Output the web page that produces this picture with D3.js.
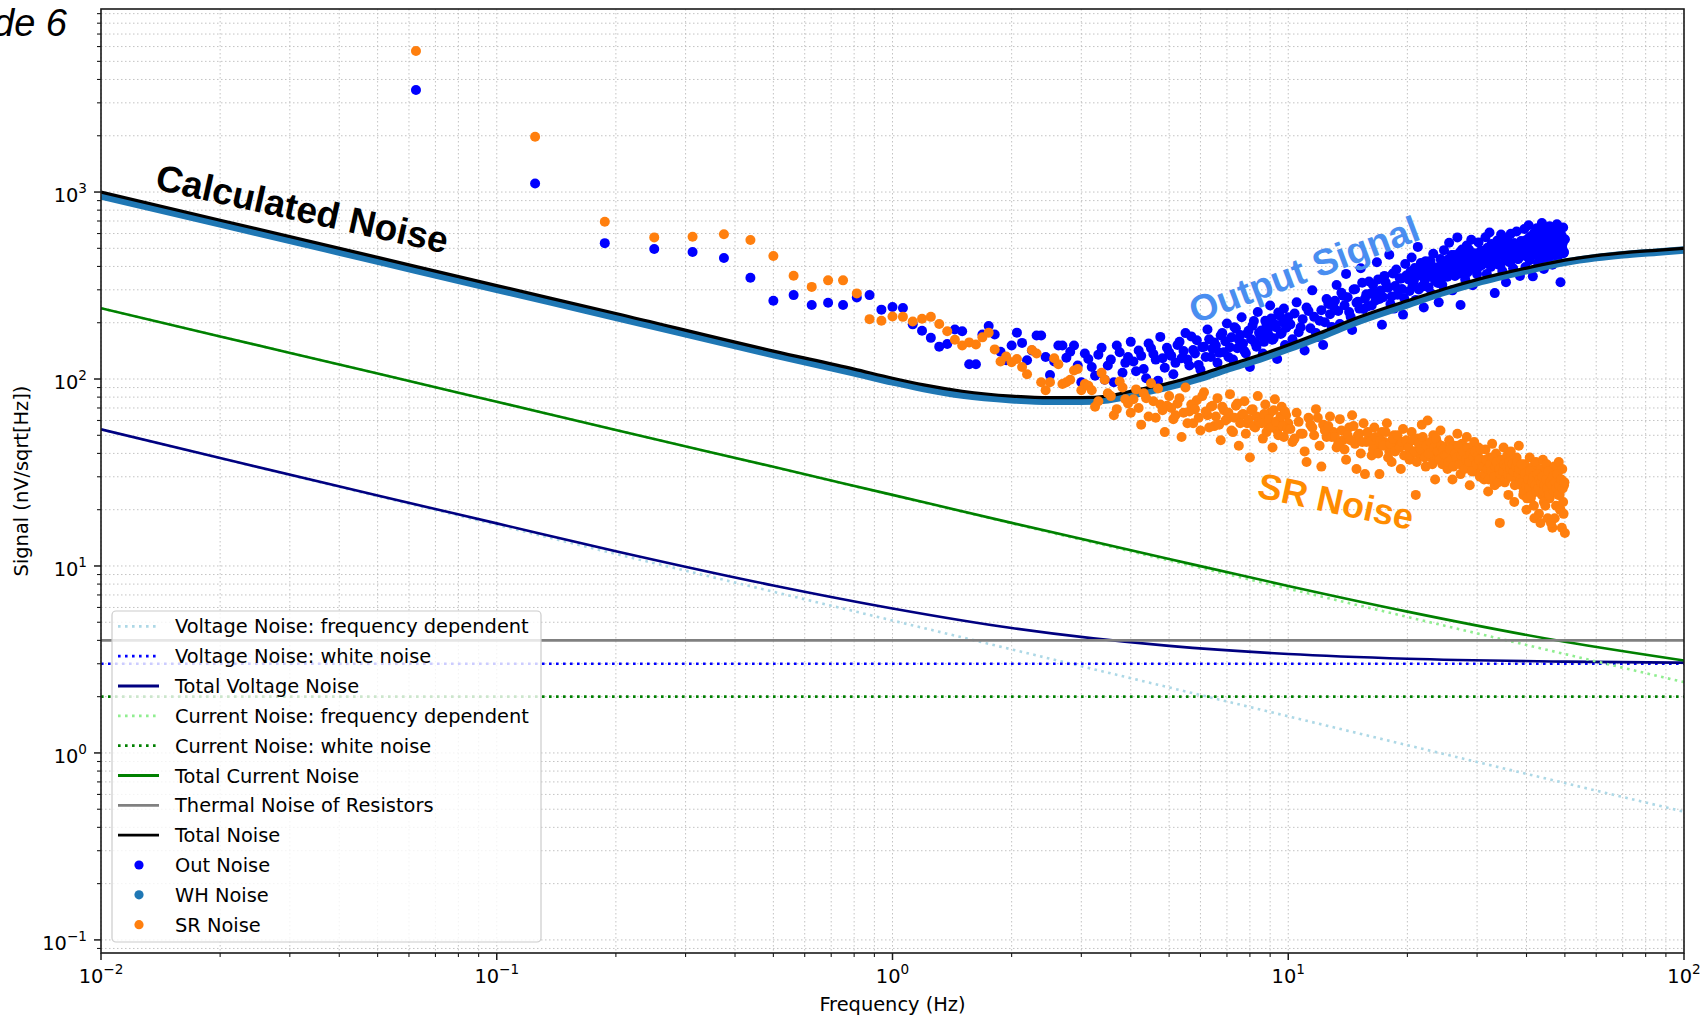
<!DOCTYPE html>
<html>

<head>
  <meta charset="utf-8" />
  <script src="https://cdn.jsdelivr.net/npm/d3@7"></script>
  <style>
    body {
      margin: 0;
      background: #fff;
    }

    svg {
      display: block;
    }

    text {
      font-family: "DejaVu Sans", sans-serif;
      fill: #000;
    }

    .grid line {
      stroke: #b4b4b4;
      stroke-width: 0.8px;
      stroke-dasharray: 1.5, 2.5;
    }

    .curve {
      fill: none;
    }

    .note {
      font-family: "Liberation Sans", Arial, sans-serif;
      font-weight: bold;
      font-size: 36px;
    }

    .mode {
      font-family: "Liberation Sans", Arial, sans-serif;
      font-style: italic;
      font-size: 38px;
    }
  </style>
</head>

<body>
</body>
<script>
  "use strict";

  // Model curves (Hz, nV/sqrt(Hz))
  var modelFreq = [0.01, 0.02, 0.05, 0.1, 0.2, 0.5, 1, 2, 5, 10, 20, 50, 100];
  var voltFreqDep = [53.7, 37.7, 23.6, 16.6, 11.6, 7.28, 5.11, 3.58, 2.24, 1.57, 1.10, 0.69, 0.485];
  var voltTotal = [53.8, 37.8, 23.8, 16.9, 12.0, 7.87, 5.93, 4.66, 3.74, 3.38, 3.19, 3.08, 3.04];
  var currFreqDep = [239, 169, 107, 75.6, 53.4, 33.8, 23.9, 16.9, 10.7, 7.56, 5.34, 3.38, 2.39];
  var currTotal = [239, 169, 107, 75.6, 53.4, 33.9, 24.0, 17.0, 10.9, 7.82, 5.70, 3.93, 3.12];

  var flatFreq = [0.01, 100];
  var voltWhite = [3, 3];
  var currWhite = [2, 2];
  var thermal = [4, 4];

  var totalFreq = [0.01, 0.02, 0.05, 0.1, 0.2, 0.5, 0.8, 1, 1.2, 1.5, 2, 2.5, 3, 3.5, 4, 5, 6, 7, 8, 10, 12, 15, 20, 25, 30, 40, 50, 60, 70, 85, 100];
  var totalNoise = [1000, 707, 447, 316, 224, 141, 113, 101, 93, 86, 81, 79.5, 79.5, 81, 86, 95, 106, 118, 129, 152, 176, 213, 262, 305, 340, 392, 432, 457, 473, 488, 500];
  var whNoise = [955, 675, 427, 302, 214, 135, 108, 96.5, 89, 82, 77.5, 76, 76, 77.5, 82, 91, 101, 113, 123, 145, 168, 203, 250, 293, 328, 380, 421, 446, 462, 477, 490];

  // Measured spectra, even FFT bins
  var specFreq = [
    0.0625, 0.125, 0.1875, 0.25, 0.3125, 0.375, 0.4375, 0.5, 0.5625, 0.625, 0.6875, 0.75, 0.8125, 0.875, 0.9375, 1,
    1.0625, 1.125, 1.1875, 1.25, 1.3125, 1.375, 1.4375, 1.5, 1.5625, 1.625, 1.6875, 1.75, 1.8125, 1.875, 1.9375, 2,
    2.0625, 2.125, 2.1875, 2.25, 2.3125, 2.375, 2.4375, 2.5, 2.5625, 2.625, 2.6875, 2.75, 2.8125, 2.875, 2.9375, 3, 3.0625,
    3.125, 3.25, 3.375, 3.5, 3.625, 3.75, 3.875, 4, 4.125, 4.25, 4.375, 4.5, 4.625, 4.75, 4.875,
    5, 5.125, 5.25, 5.375, 5.5, 5.625, 5.75, 5.875, 6, 6.125, 6.25, 6.375,
    6.5, 6.625, 6.75, 6.875, 7, 7.125, 7.25, 7.375, 7.5, 7.625, 7.75, 7.875, 8, 8.125, 8.25, 8.375,
    8.5, 8.625, 8.75, 8.875, 9, 9.125, 9.25, 9.375, 9.5, 9.625, 9.75, 9.875,
    10, 10.25, 10.5, 10.75, 11, 11.25, 11.5, 11.75, 12, 12.25, 12.5, 12.75,
    13, 13.25, 13.5, 13.75, 14, 14.25, 14.5, 14.75, 15, 15.25, 15.5, 15.75,
    16, 16.25, 16.5, 16.75, 17, 17.25, 17.5, 17.75, 18, 18.25, 18.5, 18.75, 19, 19.25, 19.5, 19.75,
    20, 20.25, 20.5, 20.75, 21, 21.25, 21.5, 21.75, 22, 22.25, 22.5, 22.75, 23, 23.25, 23.5, 23.75, 24, 24.25, 24.5, 24.75,
    25, 25.25, 25.5, 25.75, 26, 26.25, 26.5, 26.75, 27, 27.25, 27.5, 27.75, 28, 28.25, 28.5, 28.75, 29, 29.25, 29.5, 29.75, 30, 30.25, 30.5, 30.75,
    31, 31.25, 31.5, 31.75, 32, 32.25, 32.5, 32.75, 33, 33.25, 33.5, 33.75, 34, 34.25, 34.5, 34.75,
    35, 35.25, 35.5, 35.75, 36, 36.25, 36.5, 36.75, 37, 37.25, 37.5, 37.75, 38, 38.25, 38.5, 38.75,
    39, 39.25, 39.5, 39.75, 40, 40.25, 40.5, 40.75, 41, 41.25, 41.5, 41.75, 42, 42.25, 42.5, 42.75, 43, 43.25, 43.5, 43.75,
    44, 44.25, 44.5, 44.75, 45, 45.25, 45.5, 45.75, 46, 46.25, 46.5, 46.75, 47, 47.25, 47.5, 47.75, 48, 48.25, 48.5, 48.75,
    49, 49.25, 49.5, 49.75, 50
  ];

  var outNoise = [
    3510, 1110, 533, 496, 478, 444, 348, 262, 281, 249, 256, 249, 273, 281, 235, 243,
    240, 196, 181, 166, 149, 154, 184, 180, 120, 120, 173, 192, 173, 140, 126, 151,
    177, 156, 126, 142, 171, 171, 131, 105, 124, 151, 151, 130, 140, 151, 118, 96, 137,
    128, 104, 147, 118, 96, 139, 122, 158, 110, 133, 101, 146, 127, 168, 115,
    139, 106, 152, 129, 176, 118, 143, 161, 112, 149, 184, 131,
    157, 122, 171, 139, 198, 148, 127, 186, 162, 214, 141, 175, 116, 193, 156, 228,
    170, 137, 205, 183, 247, 162, 196, 128, 219, 176, 238, 188,
    214, 163, 257, 189, 142, 231, 298, 176, 205, 152, 268, 222,
    246, 318, 197, 279, 365, 228, 183, 302, 259, 391, 237, 284,
    332, 247, 289, 421, 268, 195, 356, 311, 462, 276, 238, 385, 299, 344, 221, 412,
    358, 296, 447, 332, 265, 509, 378, 312, 241, 427, 351, 398, 286, 468, 334, 373, 257, 438, 319, 489,
    412, 352, 536, 387, 298, 461, 428, 572, 366, 249, 493, 405, 341, 517, 443, 389, 556, 317, 471, 422, 364, 538, 401, 452,
    486, 419, 573, 365, 452, 607, 398, 521, 436, 288, 498, 551, 409, 467, 592, 378,
    514, 443, 329, 566, 482, 421, 598, 457, 391, 532, 474, 615, 438, 503, 356, 547,
    512, 458, 634, 397, 541, 487, 665, 432, 578, 506, 354, 602, 468, 549, 641, 419, 523, 587, 461, 682,
    497, 388, 618, 542, 473, 596, 445, 657, 518, 562, 409, 631, 489, 574, 527, 672, 451, 603, 536, 329,
    588, 502, 646, 478, 559
  ];

  var srNoise = [
    5680, 1975, 694, 572, 577, 594, 554, 455, 357, 311, 337, 337, 287, 209, 205, 216,
    215, 203, 210, 215, 197, 180, 162, 151, 157, 153, 167, 177, 144, 124, 132, 123,
    128, 116, 106, 143, 137, 96, 87, 96, 129, 120, 94, 96, 99, 111, 113, 87, 94,
    92, 71, 108, 84, 64, 97, 78, 66, 88, 57, 79, 95, 62, 73, 52,
    81, 61, 74, 49, 90, 67, 58, 77, 53, 85, 64, 71,
    56, 79, 47, 68, 61, 83, 52, 72, 44, 64, 76, 58, 38, 69, 55, 81,
    62, 48, 73, 57, 66, 43, 78, 53, 60, 71, 49, 64,
    58, 46, 66, 51, 41, 62, 55, 69, 44, 57, 49, 63,
    52, 43, 61, 47, 37, 55, 64, 45, 50, 40, 58, 46,
    49, 39, 55, 44, 31, 52, 46, 58, 41, 36, 50, 43, 47, 33, 54, 45,
    44, 37, 52, 41, 24, 48, 39, 57, 45, 34, 60, 42, 38, 50, 29, 46, 40, 53, 35, 43,
    41, 33, 47, 38, 29, 44, 36, 51, 39, 31, 45, 40, 34, 49, 37, 27, 42, 35, 46, 32, 39, 43, 30, 37,
    36, 29, 42, 33, 25, 38, 31, 45, 34, 27, 40, 35, 30, 17, 37, 32,
    43, 28, 35, 39, 24, 33, 41, 30, 36, 22, 34, 38, 29, 44, 32, 27,
    30, 24, 35, 27, 20, 32, 26, 38, 23, 29, 34, 21, 28, 36, 25, 31, 19, 27, 33, 24,
    37, 22, 29, 26, 35, 18, 30, 23, 32, 27, 16, 25, 34, 28, 21, 31, 26, 36, 24, 20,
    29, 33, 22, 27, 15
  ];

  // Measured spectra, the bins in between
  var specFreqB = [
    3.1875, 3.3125, 3.4375, 3.5625, 3.6875, 3.8125, 3.9375, 4.0625, 4.1875, 4.3125, 4.4375, 4.5625, 4.6875, 4.8125, 4.9375,
    5.0625, 5.1875, 5.3125, 5.4375, 5.5625, 5.6875, 5.8125, 5.9375, 6.0625, 6.1875, 6.3125, 6.4375,
    6.5625, 6.6875, 6.8125, 6.9375, 7.0625, 7.1875, 7.3125, 7.4375, 7.5625, 7.6875, 7.8125, 7.9375, 8.0625, 8.1875, 8.3125, 8.4375,
    8.5625, 8.6875, 8.8125, 8.9375, 9.0625, 9.1875, 9.3125, 9.4375, 9.5625, 9.6875, 9.8125, 9.9375,
    10.125, 10.375, 10.625, 10.875, 11.125, 11.375, 11.625, 11.875, 12.125, 12.375, 12.625, 12.875,
    13.125, 13.375, 13.625, 13.875, 14.125, 14.375, 14.625, 14.875, 15.125, 15.375, 15.625, 15.875,
    16.125, 16.375, 16.625, 16.875, 17.125, 17.375, 17.625, 17.875, 18.125, 18.375, 18.625, 18.875, 19.125, 19.375, 19.625, 19.875,
    20.125, 20.375, 20.625, 20.875, 21.125, 21.375, 21.625, 21.875, 22.125, 22.375, 22.625, 22.875, 23.125, 23.375, 23.625, 23.875,
    24.125, 24.375, 24.625, 24.875,
    25.125, 25.375, 25.625, 25.875, 26.125, 26.375, 26.625, 26.875, 27.125, 27.375, 27.625, 27.875, 28.125, 28.375, 28.625, 28.875,
    29.125, 29.375, 29.625, 29.875, 30.125, 30.375, 30.625, 30.875,
    31.125, 31.375, 31.625, 31.875, 32.125, 32.375, 32.625, 32.875, 33.125, 33.375, 33.625, 33.875, 34.125, 34.375, 34.625, 34.875,
    35.125, 35.375, 35.625, 35.875, 36.125, 36.375, 36.625, 36.875, 37.125, 37.375, 37.625, 37.875, 38.125, 38.375, 38.625, 38.875,
    39.125, 39.375, 39.625, 39.875, 40.125, 40.375, 40.625, 40.875, 41.125, 41.375, 41.625, 41.875, 42.125, 42.375, 42.625, 42.875,
    43.125, 43.375, 43.625, 43.875, 44.125, 44.375, 44.625, 44.875, 45.125, 45.375, 45.625, 45.875, 46.125, 46.375, 46.625, 46.875,
    47.125, 47.375, 47.625, 47.875, 48.125, 48.375, 48.625, 48.875, 49.125, 49.375, 49.625, 49.875
  ];

  var outNoiseB = [
    116, 135, 99, 127, 151, 108, 131, 124, 142, 113, 155, 136, 98, 129, 147,
    133, 122, 158, 141, 127, 169, 137, 119, 148, 131, 163, 145,
    151, 138, 176, 159, 131, 167, 189, 146, 172, 155, 137, 181, 163, 204, 149, 177,
    182, 158, 197, 171, 211, 165, 189, 227, 174, 201, 152, 193,
    196, 224, 178, 209, 241, 187, 215, 168, 233, 201, 252, 190,
    262, 231, 289, 248, 274, 215, 301, 256, 238, 327, 269, 244,
    286, 318, 263, 341, 297, 274, 329, 308, 252, 367, 314, 282, 346, 303, 271, 358,
    341, 376, 318, 392, 355, 301, 417, 366, 337, 384, 309, 428, 361, 347, 395, 326, 372, 411, 353, 389,
    404, 437, 382, 461, 419, 356, 448, 397, 476, 425, 388, 453, 412, 371, 492, 434, 401, 466, 418, 379, 445, 427, 483, 409,
    447, 481, 426, 503, 462, 415, 528, 471, 438, 496, 452, 517, 477, 409, 489, 463,
    541, 432, 474, 508, 455, 421, 493, 468, 532, 446, 479, 512, 439, 501, 466, 487,
    489, 527, 468, 553, 506, 447, 571, 518, 482, 544, 497, 462, 586, 523, 491, 548, 475, 562, 509, 436, 534, 498,
    579, 517, 472, 551, 488, 603, 526, 459, 541, 503, 567, 484, 529, 452, 594, 513, 476, 548, 495, 532, 471, 557
  ];

  var srNoiseB = [
    87, 76, 99, 81, 69, 90, 74, 78, 70, 84, 63, 76, 89, 68, 72,
    70, 64, 79, 66, 58, 73, 69, 62, 81, 67, 55, 72,
    63, 57, 71, 60, 66, 53, 62, 74, 58, 65, 51, 61, 68, 56, 63, 59,
    58, 65, 52, 61, 55, 68, 59, 50, 63, 56, 67, 54,
    54, 48, 59, 51, 36, 57, 50, 62, 34, 53, 56, 49,
    49, 45, 53, 42, 50, 47, 56, 33, 51, 46, 31, 52,
    46, 42, 49, 40, 47, 44, 52, 38, 45, 48, 41, 50, 43, 46, 39, 47,
    43, 39, 47, 41, 36, 45, 42, 49, 38, 44, 40, 46, 35, 43, 48, 41, 37, 44, 42, 39,
    39, 36, 42, 37, 34, 40, 38, 44, 35, 39, 41, 33, 37, 43, 36, 40, 32, 38, 41, 35, 39, 37, 42, 34,
    34, 31, 37, 33, 29, 35, 32, 38, 30, 34, 36, 28, 33, 31, 37, 32,
    35, 29, 34, 31, 36, 33, 30, 35, 32, 27, 34, 36, 31, 33, 29, 35,
    28, 25, 31, 27, 23, 29, 26, 32, 24, 28, 30, 18, 27, 25, 31, 26, 29, 17, 28, 30, 25, 27,
    21, 29, 26, 32, 24, 28, 17, 27, 30, 25, 18, 28, 26, 31, 24, 27, 20, 29, 16, 26, 19, 28
  ];

  var legendLabels = [
    "Voltage Noise: frequency dependent", "Voltage Noise: white noise", "Total Voltage Noise",
    "Current Noise: frequency dependent", "Current Noise: white noise", "Total Current Noise",
    "Thermal Noise of Resistors", "Total Noise", "Out Noise", "WH Noise", "SR Noise"
  ];

  var width = 1702,
    height = 1018;
  var plot = {
    left: 101,
    right: 1684,
    top: 9,
    bottom: 953
  };

  var svg = d3.select("body")
    .append("svg")
    .attr("width", width)
    .attr("height", height);

  var x = d3.scaleLog().domain([0.01, 100]).range([plot.left, plot.right]);
  var y = d3.scaleLog().domain([Math.pow(10, -1.07), Math.pow(10, 3.979)]).range([plot.bottom, plot.top]);

  function isDecade(v) {
    var l = Math.log10(v);
    return Math.abs(l - Math.round(l)) < 1e-6;
  }

  var xTicks = x.ticks(),
    yTicks = y.ticks();

  // Grid, major and minor alike
  var grid = svg.append("g").attr("class", "grid");
  grid.selectAll("line.gx").data(xTicks).enter().append("line")
    .attr("x1", x).attr("x2", x)
    .attr("y1", plot.top).attr("y2", plot.bottom);
  grid.selectAll("line.gy").data(yTicks).enter().append("line")
    .attr("y1", y).attr("y2", y)
    .attr("x1", plot.left).attr("x2", plot.right);

  svg.append("clipPath").attr("id", "clip")
    .append("rect")
    .attr("x", plot.left).attr("y", plot.top)
    .attr("width", plot.right - plot.left)
    .attr("height", plot.bottom - plot.top);

  var area = svg.append("g").attr("clip-path", "url(#clip)");

  var line = d3.line()
    .x(function(d) { return x(d[0]); })
    .y(function(d) { return y(d[1]); })
    .curve(d3.curveMonotoneX);

  function drawCurve(freqs, vals, color, w, dash) {
    area.append("path")
      .attr("class", "curve")
      .attr("d", line(d3.zip(freqs, vals)))
      .attr("stroke", color)
      .attr("stroke-width", w)
      .attr("stroke-dasharray", dash ? "2.6,4.4" : null);
  }

  function drawDots(freqs, vals, color) {
    area.append("g").selectAll("circle")
      .data(d3.zip(freqs, vals))
      .enter().append("circle")
      .attr("cx", function(d) { return x(d[0]); })
      .attr("cy", function(d) { return y(d[1]); })
      .attr("r", 5)
      .attr("fill", color);
  }

  drawCurve(modelFreq, voltFreqDep, "#add8e6", 2.6, true);
  drawCurve(flatFreq, voltWhite, "#0000ff", 2.6, true);
  drawCurve(modelFreq, voltTotal, "#000080", 2.6, false);
  drawCurve(modelFreq, currFreqDep, "#90ee90", 2.6, true);
  drawCurve(flatFreq, currWhite, "#008000", 2.6, true);
  drawCurve(modelFreq, currTotal, "#008000", 2.6, false);
  drawCurve(flatFreq, thermal, "#808080", 2.6, false);

  drawDots(specFreq, outNoise, "#0000ff");
  drawDots(specFreqB, outNoiseB, "#0000ff");
  // WH noise is a dense run of points: drawn as a thick trace
  drawCurve(totalFreq, whNoise, "#1f77b4", 7.5, false);
  drawCurve(totalFreq, totalNoise, "#000000", 3.2, false);
  drawDots(specFreq, srNoise, "#ff7f0e");
  drawDots(specFreqB, srNoiseB, "#ff7f0e");

  // Frame
  svg.append("rect")
    .attr("x", plot.left).attr("y", plot.top)
    .attr("width", plot.right - plot.left)
    .attr("height", plot.bottom - plot.top)
    .attr("fill", "none")
    .attr("stroke", "#1a1a1a")
    .attr("stroke-width", 1.6);

  // Ticks
  var axes = svg.append("g").attr("stroke", "#1a1a1a");
  axes.selectAll("line.tx").data(xTicks).enter().append("line")
    .attr("x1", x).attr("x2", x)
    .attr("y1", plot.bottom)
    .attr("y2", function(d) { return plot.bottom + (isDecade(d) ? 7 : 4); })
    .attr("stroke-width", function(d) { return isDecade(d) ? 1.5 : 1.1; });
  axes.selectAll("line.ty").data(yTicks).enter().append("line")
    .attr("y1", y).attr("y2", y)
    .attr("x1", plot.left)
    .attr("x2", function(d) { return plot.left - (isDecade(d) ? 7 : 4); })
    .attr("stroke-width", function(d) { return isDecade(d) ? 1.5 : 1.1; });

  function powerLabel(sel) {
    sel.text("10")
      .append("tspan")
      .attr("dy", -9)
      .attr("font-size", "13.6px")
      .text(function(d) {
        var e = Math.round(Math.log10(d));
        return e < 0 ? "\u2212" + (-e) : String(e);
      });
  }

  svg.append("g").selectAll("text")
    .data(xTicks.filter(isDecade)).enter().append("text")
    .attr("x", x)
    .attr("y", 983)
    .attr("text-anchor", "middle")
    .attr("font-size", "19.4px")
    .call(powerLabel);

  svg.append("g").selectAll("text")
    .data(yTicks.filter(isDecade)).enter().append("text")
    .attr("x", 87)
    .attr("y", function(d) { return y(d) + 9.7; })
    .attr("text-anchor", "end")
    .attr("font-size", "19.4px")
    .call(powerLabel);

  svg.append("text")
    .attr("x", (plot.left + plot.right) / 2)
    .attr("y", 1011)
    .attr("text-anchor", "middle")
    .attr("font-size", "19.4px")
    .text("Frequency (Hz)");

  svg.append("text")
    .attr("transform", "translate(27.5," + (plot.top + plot.bottom) / 2 + ") rotate(-90)")
    .attr("text-anchor", "middle")
    .attr("font-size", "19.4px")
    .text("Signal (nV/sqrt[Hz])");

  // Annotations
  svg.append("text")
    .attr("class", "note")
    .attr("transform", "translate(154,189) rotate(12.5)")
    .style("font-size", "37px")
    .text("Calculated Noise");

  svg.append("text")
    .attr("class", "note")
    .attr("transform", "translate(1195,324) rotate(-20.5)")
    .style("fill", "#4a8ef0")
    .style("font-size", "37px")
    .text("Output Signal");

  svg.append("text")
    .attr("class", "note")
    .attr("transform", "translate(1256,497) rotate(12)")
    .style("fill", "#ff8c00")
    .text("SR Noise");

  svg.append("text")
    .attr("class", "mode")
    .attr("x", 67)
    .attr("y", 36)
    .attr("text-anchor", "end")
    .text("Mode 6");

  // Legend
  var legendStyle = [
    { color: "#add8e6", dash: true },
    { color: "#0000ff", dash: true },
    { color: "#000080" },
    { color: "#90ee90", dash: true },
    { color: "#008000", dash: true },
    { color: "#008000" },
    { color: "#808080" },
    { color: "#000000" },
    { color: "#0000ff", dot: true },
    { color: "#1f77b4", dot: true },
    { color: "#ff7f0e", dot: true }
  ];

  var legend = svg.append("g");
  legend.append("rect")
    .attr("x", 112).attr("y", 611)
    .attr("width", 429).attr("height", 331)
    .attr("rx", 4)
    .attr("fill", "#fff")
    .attr("fill-opacity", 0.8)
    .attr("stroke", "#cccccc")
    .attr("stroke-width", 1.2);

  var rows = legend.selectAll("g.row")
    .data(legendLabels).enter().append("g")
    .attr("transform", function(d, i) { return "translate(0," + (633.3 + i * 29.84) + ")"; });

  rows.each(function(d, i) {
    var g = d3.select(this),
      s = legendStyle[i];
    if (s.dot) {
      g.append("circle").attr("cx", 139).attr("cy", -7).attr("r", 4.6).attr("fill", s.color);
    } else {
      g.append("line")
        .attr("x1", 118).attr("x2", 159)
        .attr("y1", -7).attr("y2", -7)
        .attr("stroke", s.color)
        .attr("stroke-width", 2.8)
        .attr("stroke-dasharray", s.dash ? "2.6,4.4" : null);
    }
    g.append("text")
      .attr("x", 175)
      .attr("y", 0)
      .attr("font-size", "19.4px")
      .text(d);
  });
</script>

</html>
